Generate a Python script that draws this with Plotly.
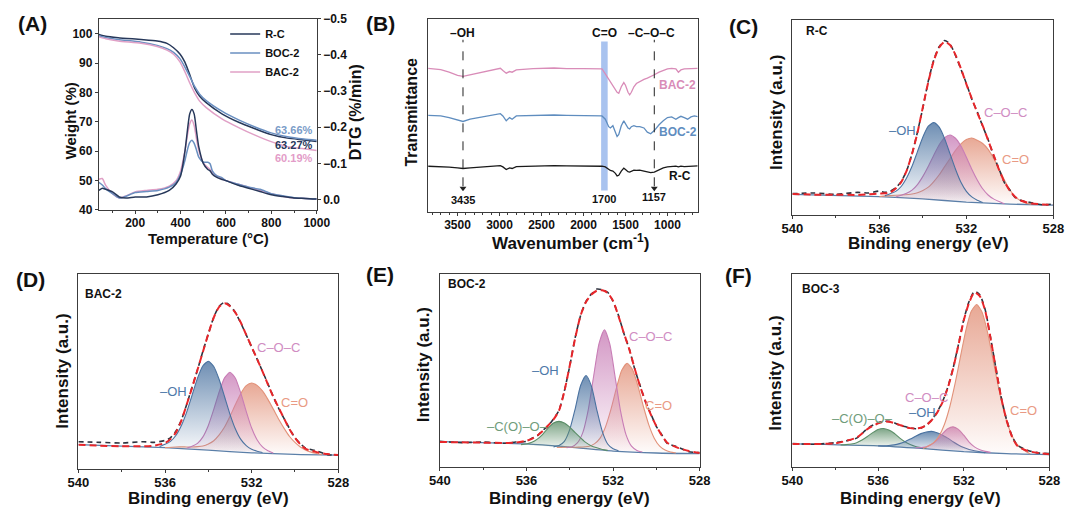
import plotly.graph_objects as go

FONT = "Liberation Sans, Arial, sans-serif"
AX = "#3c3c3c"

# ---------------- (A) TGA / DTG ----------------
tga_temp = [40, 70, 125, 226, 297, 340, 369, 398, 419, 441, 462, 484, 513, 584, 656, 728, 799, 871, 943, 1000]
tga_rc = [99.7, 99.1, 98.6, 98.0, 97.5, 96.7, 95.2, 93.0, 90.3, 85.9, 81.4, 78.7, 76.5, 72.6, 69.8, 67.6, 65.6, 64.4, 63.8, 63.27]
tga_boc2 = [99.3, 98.7, 98.0, 97.1, 96.0, 94.9, 93.6, 91.4, 88.6, 85.3, 82.0, 79.4, 77.2, 73.5, 70.6, 68.2, 66.2, 64.9, 64.1, 63.66]
tga_bac2 = [98.9, 98.3, 97.5, 96.7, 95.6, 94.4, 93.0, 90.3, 87.0, 83.1, 79.8, 77.0, 74.8, 70.9, 68.0, 65.4, 63.2, 61.5, 60.8, 60.19]

dtg_temp = [40, 55, 70, 100, 130, 160, 200, 250, 300, 350, 380, 400, 420, 430, 440, 450, 460,
            470, 480, 500, 520, 530, 540, 560, 580, 600, 650, 700, 750, 800, 850, 900, 950, 1000]
dtg_rc = [-0.025, -0.031, -0.028, -0.021, -0.007, -0.004, -0.007, -0.007, -0.013, -0.025, -0.043, -0.065,
          -0.137, -0.19, -0.236, -0.249, -0.236, -0.19, -0.146, -0.10, -0.083, -0.079, -0.07, -0.061,
          -0.056, -0.052, -0.04, -0.031, -0.022, -0.013, -0.008, -0.004, -0.003, -0.001]
dtg_boc2 = [-0.047, -0.04, -0.03, -0.016, -0.004, -0.009, -0.019, -0.022, -0.025, -0.034, -0.047, -0.07,
            -0.11, -0.137, -0.157, -0.164, -0.155, -0.137, -0.117, -0.103, -0.103, -0.099, -0.079, -0.065,
            -0.061, -0.052, -0.043, -0.034, -0.028, -0.016, -0.01, -0.005, -0.003, -0.001]
dtg_bac2 = [-0.056, -0.058, -0.039, -0.016, -0.004, -0.01, -0.021, -0.025, -0.028, -0.037, -0.052, -0.079,
            -0.137, -0.177, -0.209, -0.22, -0.204, -0.168, -0.137, -0.101, -0.088, -0.083, -0.074, -0.065,
            -0.058, -0.052, -0.043, -0.034, -0.025, -0.016, -0.009, -0.004, -0.003, -0.001]
tga_residue = ["63.66%", "63.27%", "60.19%"]

# ---------------- (B) FTIR ----------------
wavenumber = [3850, 3700, 3600, 3500, 3435, 3350, 3200, 3050, 2990, 2960, 2920, 2880, 2850, 2800, 2600, 2350,
              2200, 2000, 1850, 1780, 1740, 1700, 1680, 1650, 1620, 1600, 1580, 1550, 1520, 1500, 1470, 1450,
              1430, 1400, 1370, 1330, 1280, 1240, 1200, 1157, 1100, 1050, 1000, 950, 900, 870, 840, 800,
              760, 720, 680, 640]
ftir_bac2 = [4.44, 4.40, 4.32, 4.22, 4.19, 4.24, 4.32, 4.40, 4.44, 4.37, 4.29, 4.34, 4.32, 4.39, 4.43, 4.45,
             4.43, 4.43, 4.43, 4.42, 4.27, 4.10, 4.00, 3.87, 3.77, 3.70, 3.67, 3.87, 4.00, 3.92, 3.70, 3.62,
             3.70, 3.87, 3.97, 4.04, 4.10, 4.14, 4.20, 4.24, 4.32, 4.37, 4.42, 4.44, 4.42, 4.32, 4.39, 4.42,
             4.42, 4.44, 4.42, 4.44]
ftir_boc2 = [2.99, 2.97, 2.92, 2.84, 2.80, 2.87, 2.94, 2.99, 3.04, 2.97, 2.82, 2.92, 2.87, 2.97, 2.99, 3.00,
             2.99, 2.99, 2.99, 2.97, 2.87, 2.64, 2.60, 2.67, 2.47, 2.34, 2.40, 2.67, 2.82, 2.74, 2.60, 2.57,
             2.64, 2.67, 2.64, 2.64, 2.60, 2.47, 2.42, 2.52, 2.70, 2.82, 2.92, 2.94, 2.87, 2.92, 2.96, 2.92,
             2.87, 2.94, 2.97, 2.95]
ftir_rc = [1.42, 1.41, 1.39, 1.37, 1.35, 1.37, 1.40, 1.42, 1.44, 1.40, 1.32, 1.37, 1.35, 1.41, 1.43, 1.44,
           1.43, 1.43, 1.43, 1.42, 1.40, 1.32, 1.29, 1.27, 1.20, 1.12, 1.14, 1.27, 1.36, 1.32, 1.25, 1.24,
           1.27, 1.30, 1.29, 1.30, 1.27, 1.24, 1.22, 1.24, 1.32, 1.37, 1.40, 1.42, 1.42, 1.40, 1.42, 1.41,
           1.42, 1.43, 1.42, 1.43]
ftir_marks = [3435, 1157]
ftir_band = [1712, 1790]

# ---------------- (C)-(F) XPS O 1s ----------------
be_grid = [540, 539, 538, 537, 536.5, 536, 535.75, 535.5, 535.25, 535, 534.75, 534.5, 534.25, 534, 533.75,
           533.5, 533.25, 533, 532.75, 532.5, 532.25, 532, 531.75, 531.5, 531.25, 531, 530.75, 530.5,
           530.25, 530, 529.75, 529.5, 529, 528.5, 528]
base_be = [540, 536, 534, 532, 530, 528]

# R-C
env_c = [0.65, 0.63, 0.63, 0.62, 0.64, 0.66, 0.67, 0.70, 0.82, 1.01, 1.36, 1.88, 2.53, 3.32, 4.09, 4.74, 5.15,
         5.32, 5.22, 4.92, 4.50, 4.02, 3.58, 3.15, 2.75, 2.30, 1.85, 1.40, 1.02, 0.75, 0.56, 0.45, 0.36, 0.33, 0.32]
raw_c = [0.66, 0.68, 0.64, 0.70, 0.68, 0.74, 0.70, 0.74, 0.84, 1.03, 1.36, 1.88, 2.55, 3.30, 4.12, 4.76, 5.17,
         5.36, 5.25, 4.90, 4.48, 4.04, 3.56, 3.17, 2.73, 2.32, 1.83, 1.42, 1.00, 0.77, 0.54, 0.46, 0.38, 0.32, 0.34]
base_c = [0.64, 0.57, 0.50, 0.40, 0.34, 0.31]
oh_c_x = [535.75, 535.5, 535.25, 535, 534.75, 534.5, 534.25, 534, 533.75, 533.5, 533.25, 533, 532.75, 532.5,
          532.25, 532, 531.75, 531.5, 531.25]
oh_c_y = [0.60, 0.66, 0.73, 0.88, 1.14, 1.50, 1.95, 2.40, 2.73, 2.84, 2.70, 2.35, 1.88, 1.41, 1.01, 0.73, 0.56,
          0.46, 0.39]
coc_c_x = [535.25, 535, 534.75, 534.5, 534.25, 534, 533.75, 533.5, 533.25, 533, 532.75, 532.5, 532.25, 532,
           531.75, 531.5, 531.25, 531, 530.75, 530.5, 530.25]
coc_c_y = [0.56, 0.61, 0.67, 0.77, 0.94, 1.19, 1.50, 1.84, 2.16, 2.38, 2.46, 2.36, 2.12, 1.78, 1.41, 1.08, 0.81,
           0.62, 0.50, 0.42, 0.35]
co_c_x = [536, 535.5, 535, 534.5, 534.25, 534, 533.75, 533.5, 533.25, 533, 532.75, 532.5, 532.25, 532, 531.75,
          531.5, 531.25, 531, 530.75, 530.5, 530.25, 530, 529.75, 529.5, 529.25, 529]
co_c_y = [0.57, 0.60, 0.62, 0.65, 0.69, 0.76, 0.86, 1.03, 1.24, 1.49, 1.74, 1.99, 2.19, 2.32, 2.37, 2.30, 2.20,
          2.02, 1.75, 1.42, 1.08, 0.78, 0.56, 0.44, 0.37, 0.34]

# BAC-2
env_d = [0.75, 0.72, 0.70, 0.70, 0.72, 0.80, 0.92, 1.12, 1.48, 1.98, 2.50, 3.05, 3.60, 4.15, 4.65, 4.98, 5.09,
         5.00, 4.80, 4.50, 4.12, 3.75, 3.38, 3.00, 2.60, 2.22, 1.88, 1.55, 1.22, 0.96, 0.76, 0.62, 0.52, 0.46, 0.43]
raw_d = [0.84, 0.82, 0.80, 0.84, 0.82, 0.88, 0.96, 1.16, 1.50, 1.98, 2.52, 3.05, 3.62, 4.15, 4.66, 5.00, 5.12,
         5.02, 4.80, 4.48, 4.12, 3.74, 3.38, 3.00, 2.62, 2.22, 1.86, 1.55, 1.24, 0.96, 0.78, 0.64, 0.56, 0.44, 0.43]
base_d = [0.75, 0.66, 0.58, 0.50, 0.45, 0.43]
oh_d_x = [536.25, 536, 535.75, 535.5, 535.25, 535, 534.75, 534.5, 534.25, 534, 533.75, 533.5, 533.25, 533,
          532.75, 532.5, 532.25, 532, 531.75, 531.5]
oh_d_y = [0.69, 0.76, 0.85, 1.03, 1.33, 1.75, 2.27, 2.79, 3.17, 3.31, 3.15, 2.75, 2.22, 1.68, 1.23, 0.91, 0.72,
          0.61, 0.55, 0.51]
coc_d_x = [535, 534.75, 534.5, 534.25, 534, 533.75, 533.5, 533.25, 533, 532.75, 532.5, 532.25, 532, 531.75,
           531.5, 531.25, 531]
coc_d_y = [0.64, 0.70, 0.79, 0.99, 1.34, 1.83, 2.37, 2.80, 2.97, 2.79, 2.33, 1.77, 1.26, 0.90, 0.68, 0.56, 0.49]
co_d_x = [536, 535.5, 535, 534.75, 534.5, 534.25, 534, 533.75, 533.5, 533.25, 533, 532.75, 532.5, 532.25, 532,
          531.75, 531.5, 531.25, 531, 530.75, 530.5, 530.25, 530, 529.75, 529.5, 529.25, 529, 528.75]
co_d_y = [0.66, 0.68, 0.68, 0.68, 0.69, 0.71, 0.77, 0.87, 1.05, 1.29, 1.62, 1.98, 2.32, 2.56, 2.64, 2.57, 2.40,
          2.14, 1.84, 1.53, 1.25, 1.00, 0.82, 0.68, 0.58, 0.52, 0.48, 0.44]

# BOC-2
env_e = [0.78, 0.77, 0.76, 0.75, 0.76, 0.82, 0.88, 0.98, 1.12, 1.29, 1.48, 1.75, 2.35, 3.15, 4.00, 4.70, 5.12,
         5.35, 5.47, 5.48, 5.40, 5.15, 4.68, 4.15, 3.65, 3.05, 2.50, 2.03, 1.62, 1.27, 0.98, 0.76, 0.60, 0.50, 0.44]
raw_e = [0.80, 0.76, 0.78, 0.74, 0.78, 0.80, 0.90, 0.97, 1.14, 1.28, 1.50, 1.76, 2.36, 3.14, 4.02, 4.70, 5.14,
         5.37, 5.52, 5.50, 5.42, 5.14, 4.70, 4.14, 3.66, 3.04, 2.52, 2.02, 1.64, 1.26, 1.00, 0.74, 0.62, 0.48, 0.45]
base_e = [0.79, 0.72, 0.62, 0.50, 0.44, 0.42]
coo_e_x = [536.25, 536, 535.75, 535.5, 535.25, 535, 534.75, 534.5, 534.25, 534, 533.75, 533.5, 533.25, 533,
           532.75, 532.5, 532.25]
coo_e_y = [0.70, 0.72, 0.77, 0.87, 1.02, 1.21, 1.37, 1.42, 1.37, 1.24, 1.07, 0.91, 0.76, 0.66, 0.60, 0.55, 0.52]
oh_e_x = [534.75, 534.5, 534.25, 534, 533.75, 533.5, 533.25, 533, 532.75, 532.5, 532.25, 532, 531.75]
oh_e_y = [0.63, 0.67, 0.80, 1.17, 1.81, 2.53, 2.84, 2.51, 1.77, 1.11, 0.72, 0.57, 0.51]
coc_e_x = [534.15, 533.9, 533.65, 533.4, 533.15, 532.9, 532.65, 532.4, 532.15, 531.9, 531.65, 531.4, 531.15,
           530.9, 530.65]
coc_e_y = [0.60, 0.63, 0.75, 1.07, 1.77, 2.81, 3.83, 4.26, 3.81, 2.77, 1.72, 1.00, 0.65, 0.52, 0.47]
co_e_x = [534.6, 534.1, 533.6, 533.1, 532.85, 532.6, 532.35, 532.1, 531.85, 531.6, 531.35, 531.1, 530.85, 530.6,
          530.35, 530.1, 529.85, 529.6, 529.35, 529.1]
co_e_y = [0.61, 0.62, 0.62, 0.65, 0.73, 0.90, 1.25, 1.79, 2.44, 3.00, 3.22, 3.02, 2.51, 1.88, 1.31, 0.90, 0.65,
          0.53, 0.47, 0.44]

# BOC-3
env_f = [0.72, 0.72, 0.74, 0.92, 1.18, 1.36, 1.41, 1.41, 1.37, 1.31, 1.25, 1.21, 1.20, 1.22, 1.30, 1.45, 1.68,
         2.00, 2.45, 3.05, 3.78, 4.55, 5.10, 5.42, 5.30, 4.85, 4.00, 3.05, 2.15, 1.45, 0.95, 0.66, 0.50, 0.44, 0.40]
raw_f = [0.73, 0.71, 0.76, 0.90, 1.20, 1.38, 1.42, 1.42, 1.38, 1.30, 1.26, 1.22, 1.19, 1.21, 1.31, 1.46, 1.70,
         2.02, 2.47, 3.06, 3.80, 4.57, 5.14, 5.45, 5.34, 4.88, 4.02, 3.07, 2.16, 1.47, 0.97, 0.68, 0.52, 0.44, 0.42]
base_f = [0.72, 0.66, 0.58, 0.48, 0.42, 0.39]
coo_f_x = [537.75, 537.5, 537.25, 537, 536.75, 536.5, 536.25, 536, 535.75, 535.5, 535.25, 535, 534.75, 534.5,
           534.25, 534, 533.75]
coo_f_y = [0.69, 0.70, 0.72, 0.76, 0.84, 0.95, 1.07, 1.17, 1.20, 1.15, 1.05, 0.91, 0.79, 0.70, 0.64, 0.61, 0.59]
oh_f_x = [536, 535.75, 535.5, 535.25, 535, 534.75, 534.5, 534.25, 534, 533.75, 533.5, 533.25, 533, 532.75,
          532.5, 532.25, 532, 531.75, 531.5, 531.25, 531]
oh_f_y = [0.66, 0.66, 0.67, 0.69, 0.73, 0.79, 0.87, 0.96, 1.04, 1.09, 1.11, 1.07, 1.00, 0.90, 0.79, 0.69, 0.61,
          0.55, 0.51, 0.48, 0.45]
coc_f_x = [534.25, 534, 533.75, 533.5, 533.25, 533, 532.75, 532.5, 532.25, 532, 531.75, 531.5, 531.25, 531, 530.75]
coc_f_y = [0.60, 0.61, 0.63, 0.71, 0.84, 1.03, 1.19, 1.25, 1.17, 0.99, 0.78, 0.63, 0.54, 0.49, 0.46]
co_f_x = [533.9, 533.65, 533.4, 533.15, 532.9, 532.65, 532.4, 532.15, 531.9, 531.65, 531.4, 531.15, 530.9,
          530.65, 530.4, 530.15, 529.9, 529.65, 529.4, 529.15, 528.9]
co_f_y = [0.58, 0.66, 0.76, 0.97, 1.33, 1.88, 2.61, 3.44, 4.25, 4.83, 5.04, 4.81, 4.21, 3.39, 2.54, 1.79, 1.23,
          0.85, 0.63, 0.51, 0.41]

# colours
C_RC, C_BOC, C_BAC = "#27385a", "#6a8fc0", "#e0a0c6"
RGB_OH, RGB_COC, RGB_CO, RGB_COO = "74,114,160", "200,125,182", "226,146,122", "92,142,104"

fig = go.Figure()


def curve(x, y, xa, ya, color, width=1.5, dash=None, shape="spline", name=None, legend=False):
    return go.Scatter(x=x, y=y, xaxis=xa, yaxis=ya, mode="lines", name=name, showlegend=legend,
                      line=dict(color=color, width=width, dash=dash, shape=shape, smoothing=0.6),
                      hoverinfo="skip")


def component(x, y, rgb, xa, ya):
    return go.Scatter(x=x, y=y, xaxis=xa, yaxis=ya, mode="lines", showlegend=False, hoverinfo="skip",
                      line=dict(color="rgb(%s)" % rgb, width=1.1, shape="spline", smoothing=0.6),
                      fill="toself",
                      fillgradient=dict(type="vertical",
                                        colorscale=[[0, "rgba(%s,0.03)" % rgb], [1, "rgba(%s,0.8)" % rgb]]))


# (A)
fig.add_trace(curve(tga_temp, tga_rc, "x", "y", C_RC, name="R-C", legend=True))
fig.add_trace(curve(tga_temp, tga_boc2, "x", "y", C_BOC, name="BOC-2", legend=True))
fig.add_trace(curve(tga_temp, tga_bac2, "x", "y", C_BAC, name="BAC-2", legend=True))
fig.add_trace(curve(dtg_temp, dtg_bac2, "x", "y2", C_BAC))
fig.add_trace(curve(dtg_temp, dtg_boc2, "x", "y2", C_BOC))
fig.add_trace(curve(dtg_temp, dtg_rc, "x", "y2", C_RC))

# (B)
fig.add_trace(curve(wavenumber, ftir_bac2, "x2", "y3", "#d98cb8", width=1.3, shape="linear"))
fig.add_trace(curve(wavenumber, ftir_boc2, "x2", "y3", "#5f8dbf", width=1.3, shape="linear"))
fig.add_trace(curve(wavenumber, ftir_rc, "x2", "y3", "#1a1a1a", width=1.3, shape="linear"))
# arrow heads at the bottom of the dashed guide lines
fig.add_trace(go.Scatter(x=ftir_marks, y=[0.74, 0.74], xaxis="x2", yaxis="y3", mode="markers",
                         marker=dict(symbol="triangle-down", size=6, color="#222"),
                         showlegend=False, hoverinfo="skip"))


def xps(xa, ya, base, raw, env, comps):
    fig.add_trace(curve(base_be, base, xa, ya, "#5b7fa8", width=1.3))
    for cx, cy, rgb in comps:
        fig.add_trace(component(cx, cy, rgb, xa, ya))
    fig.add_trace(curve(be_grid, raw, xa, ya, "#2e3440", width=1.6, dash="5px,4px"))
    fig.add_trace(curve(be_grid, env, xa, ya, "#e8262a", width=2, dash="7px,4px"))


xps("x3", "y4", base_c, raw_c, env_c,
    [(co_c_x, co_c_y, RGB_CO), (coc_c_x, coc_c_y, RGB_COC), (oh_c_x, oh_c_y, RGB_OH)])
xps("x4", "y5", base_d, raw_d, env_d,
    [(co_d_x, co_d_y, RGB_CO), (coc_d_x, coc_d_y, RGB_COC), (oh_d_x, oh_d_y, RGB_OH)])
xps("x5", "y6", base_e, raw_e, env_e,
    [(co_e_x, co_e_y, RGB_CO), (coc_e_x, coc_e_y, RGB_COC), (oh_e_x, oh_e_y, RGB_OH), (coo_e_x, coo_e_y, RGB_COO)])
xps("x6", "y7", base_f, raw_f, env_f,
    [(coo_f_x, coo_f_y, RGB_COO), (oh_f_x, oh_f_y, RGB_OH), (coc_f_x, coc_f_y, RGB_COC), (co_f_x, co_f_y, RGB_CO)])


def axis(size, **kw):
    d = dict(showline=True, linecolor=AX, linewidth=1, mirror=True, showgrid=False, zeroline=False,
             ticks="outside", ticklen=3, tickwidth=1, tickcolor=AX,
             tickfont=dict(family=FONT, size=size, color="#111", weight="bold"))
    d.update(kw)
    return d


def minor(dtick, tick0):
    return dict(dtick=dtick, tick0=tick0, ticks="outside", ticklen=2, tickcolor=AX)


def blank_y(domain, anchor):
    return axis(12, domain=domain, anchor=anchor, range=[0, 6], showticklabels=False, ticks="")


def be_x(domain, anchor):
    return axis(13, domain=domain, anchor=anchor, range=[540, 528], dtick=4, tick0=528, minor=minor(2, 528),
                ticklabelstandoff=-2)


fig.update_layout(
    width=1080, height=516, margin=dict(l=0, r=0, t=0, b=0),
    paper_bgcolor="white", plot_bgcolor="white",
    font=dict(family=FONT, color="#111"),
    xaxis=axis(12, domain=[0.0833, 0.2898], anchor="y", range=[40, 1000], dtick=200, tick0=0,
               minor=minor(100, 0), ticklabelstandoff=-2),
    yaxis=axis(12, domain=[0.595, 0.9767], anchor="x", range=[39.8, 105.1], dtick=10, mirror=False),
    yaxis2=axis(12, overlaying="y", side="right", anchor="x", range=[0.030, -0.5], dtick=0.1,
                tickformat=".1f", mirror=False),
    xaxis2=axis(12, domain=[0.3954, 0.6509], anchor="y3", range=[3850, 640], dtick=500, tick0=0,
                minor=minor(100, 0), ticklabelstandoff=-2),
    yaxis3=axis(12, domain=[0.5911, 0.9767], anchor="x2", range=[0, 5.97], showticklabels=False, ticks=""),
    xaxis3=be_x([0.7407, 0.988], "y4"),
    yaxis4=blank_y([0.5853, 0.9748], "x3"),
    xaxis4=be_x([0.0639, 0.3102], "y5"),
    yaxis5=blank_y([0.0795, 0.469], "x4"),
    xaxis5=be_x([0.4065, 0.6528], "y6"),
    yaxis6=blank_y([0.0833, 0.469], "x5"),
    xaxis6=be_x([0.7407, 0.9843], "y7"),
    yaxis7=blank_y([0.0833, 0.469], "x6"),
    legend=dict(x=0.203, y=0.975, xanchor="left", yanchor="top", bgcolor="rgba(0,0,0,0)",
                font=dict(family=FONT, size=11, weight="bold"), tracegroupgap=0, itemwidth=30),
)

ann = []


def txt(text, x, y, size, color="#111", bold=True, xref="paper", yref="paper", angle=0,
        xanchor="center", yanchor="middle"):
    ann.append(dict(text=text, x=x, y=y, xref=xref, yref=yref, showarrow=False, textangle=angle,
                    xanchor=xanchor, yanchor=yanchor,
                    font=dict(family=FONT, size=size, color=color, weight="bold" if bold else "normal")))


# panel letters
for letter, px, py in [("A", 22, 17), ("B", 378, 17), ("C", 750, 20), ("D", 20, 280), ("E", 378, 275),
                       ("F", 745, 276)]:
    txt("(%s)" % letter, px / 1080, 1 - py / 516, 21)

# axis titles
txt("Temperature (°C)", 0.187, 1 - 238 / 516, 15)
txt("Weight (%)", 0.0565, 0.7733, 15, angle=-90)
txt("DTG (%/min)", 0.3262, 0.7907, 16, angle=-90)
txt("Wavenumber (cm<sup>-1</sup>)", 0.5306, 1 - 242 / 516, 17)
txt("Transmittance", 0.3796, 0.7907, 16, angle=-90)
txt("Binding energy (eV)", 0.8694, 1 - 243 / 516, 17)
txt("Intensity (a.u.)", 0.725, 0.7907, 17, angle=-90)
for xc, yc, xt in [(0.0491, 0.2752, 0.187), (0.3907, 0.2868, 0.5296), (0.725, 0.2713, 0.8625)]:
    txt("Binding energy (eV)", xt, 1 - 505 / 516, 17)
    txt("Intensity (a.u.)", xc, yc, 17, angle=-90)

# (A) residues
for label, yv, col in zip(tga_residue, [67.0, 62.0, 57.7], ["#7a9cc8", C_RC, "#e39cc8"]):
    txt(label, 992, yv, 11, color=col, xref="x", yref="y", xanchor="right")

# (B) labels
txt("–OH", ftir_marks[0], 5.52, 12, xref="x2", yref="y3")
txt("C=O", 1750, 5.52, 12, xref="x2", yref="y3")
txt("–C–O–C", 1190, 5.52, 12, xref="x2", yref="y3")
txt("3435", ftir_marks[0], 0.37, 11, xref="x2", yref="y3")
txt("1700", 1750, 0.42, 11, xref="x2", yref="y3")
txt("1157", ftir_marks[1], 0.47, 11, xref="x2", yref="y3")
txt("BAC-2", 880, 3.92, 12, color="#d98cb8", xref="x2", yref="y3")
txt("BOC-2", 880, 2.47, 12, color="#5f8dbf", xref="x2", yref="y3")
txt("R-C", 850, 1.12, 12, xref="x2", yref="y3")

# XPS labels
C_OH, C_COC, C_CO, C_COO = "#4d78a8", "#d08cc2", "#e99a84", "#6f9c7a"
for xa, ya, sample, sx, sy, labels in [
    ("x3", "y4", "R-C", 0.045, 0.94,
     [("–OH", 534.92, 2.59, C_OH), ("C–O–C", 530.2, 3.14, C_COC), ("C=O", 529.76, 1.72, C_CO)]),
    ("x4", "y5", "BAC-2", 0.017, 0.896,
     [("–OH", 535.6, 2.39, C_OH), ("C–O–C", 530.78, 3.73, C_COC), ("C=O", 530.03, 2.04, C_CO)]),
    ("x5", "y6", "BOC-2", 0.023, 0.945,
     [("–OH", 535.14, 3.0, C_OH), ("C–O–C", 530.26, 4.06, C_COC), ("C=O", 529.88, 1.9, C_CO),
      ("–C(O)–O–", 536.42, 1.25, C_COO)]),
    ("x6", "y7", "BOC-3", 0.03, 0.92,
     [("C–O–C", 533.76, 2.16, C_COC), ("–OH", 533.95, 1.7, C_OH), ("C=O", 529.2, 1.75, C_CO),
      ("–C(O)–O–", 536.73, 1.5, C_COO)]),
]:
    txt(sample, sx, sy, 12, xref=xa + " domain", yref=ya + " domain", xanchor="left")
    for text, bx, by, col in labels:
        txt(text, bx, by, 13, color=col, bold=False, xref=xa, yref=ya)

shapes = [dict(type="rect", xref="x2", yref="y3", x0=ftir_band[0], x1=ftir_band[1], y0=0.67, y1=5.27,
               fillcolor="#a9c3ef", line=dict(width=0), layer="below")]
for wn in ftir_marks:
    shapes.append(dict(type="line", xref="x2", yref="y3", x0=wn, x1=wn, y0=0.8, y1=5.32,
                       line=dict(color="#222", width=1, dash="dash")))

fig.update_layout(annotations=ann, shapes=shapes)
fig.write_html("out.html", config={"displayModeBar": False},
               post_script="document.body.style.margin='0';document.body.style.overflow='hidden';")
